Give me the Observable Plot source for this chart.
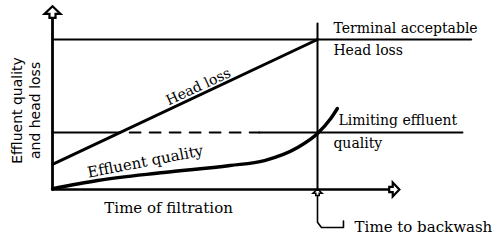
<!DOCTYPE html>
<html><head><meta charset="utf-8">
<script src="https://cdn.jsdelivr.net/npm/d3@7"></script>
<script src="https://cdn.jsdelivr.net/npm/@observablehq/plot@0.6"></script>
<style>html,body{margin:0;padding:0;background:#fff}</style>
</head><body><div id="chart"></div>
<script>
// ---- data (abstract units: time 0..backwash=10, value 0..terminal=10) ----
const headLossTimes = [0, 10];
const headLossValues = [1.67, 10];
const effluentTimes = [0, 1.7, 4.2, 6.7, 8.0, 9.25, 10, 10.5, 10.75];
const effluentValues = [0.05, 0.6, 1.13, 1.6, 1.93, 2.8, 3.73, 4.73, 5.4];
const terminalHeadLoss = 10;
const limitingQuality = 3.8;
const backwashTime = 10;
const labels = {
  yTitle1: "Effluent quality", yTitle2: "and head loss",
  xTitle: "Time of filtration",
  headLoss: "Head loss", effluent: "Effluent quality",
  terminal1: "Terminal acceptable", terminal2: "Head loss",
  limiting1: "Limiting effluent", limiting2: "quality",
  backwash: "Time to backwash"
};

// ---- layout (extents in the same abstract units) ----
const xAxisEnd = 12.75, yAxisEnd = 11.55;
const terminalEnd = 15.8, limitingEnd = 15.47;
const dashStart = 2.56, dashEnd = 7.8;
const vTop = 11.07, vBottom = -0.45, bracketBottom = -2.53, bracketRight = 10.98, hookTop = -2.1;

const headLoss = headLossTimes.map((t, i) => ({t, v: headLossValues[i]}));
const effluent = effluentTimes.map((t, i) => ({t, v: effluentValues[i]}));

// hollow arrowhead symbol (points up)
const arrowHead = {
  draw(ctx, size) {
    const r = Math.sqrt(size / Math.PI);
    ctx.moveTo(0, -r);
    ctx.lineTo(r, -0.05 * r);
    ctx.lineTo(0.38 * r, -0.05 * r);
    ctx.lineTo(0.38 * r, 0.45 * r);
    ctx.lineTo(-0.38 * r, 0.45 * r);
    ctx.lineTo(-0.38 * r, -0.05 * r);
    ctx.lineTo(-r, -0.05 * r);
    ctx.closePath();
  }
};

const serif = "DejaVu Serif";
const txt = {fill: "#000", fontSize: 14};
const chart = Plot.plot({
  width: 500, height: 248, margin: 0,
  x: {domain: [0, 10], range: [52, 317], axis: null},
  y: {domain: [0, 10], range: [189, 39], axis: null},
  style: {fontFamily: serif, background: "#fff"},
  marks: [
    // axes
    Plot.line([{t: 0, v: 0}, {t: 0, v: yAxisEnd}], {x: "t", y: "v", stroke: "#000", strokeWidth: 2.8}),
    Plot.line([{t: 0, v: 0}, {t: xAxisEnd, v: 0}], {x: "t", y: "v", stroke: "#000", strokeWidth: 2.6}),
    Plot.dot([{t: 0, v: yAxisEnd}], {x: "t", y: "v", symbol: arrowHead, r: 8, fill: "#fff", stroke: "#000", strokeWidth: 2.2, dy: -2}),
    Plot.dot([{t: xAxisEnd, v: 0}], {x: "t", y: "v", symbol: arrowHead, r: 7, rotate: 90, fill: "#fff", stroke: "#000", strokeWidth: 2.2, dx: 2}),
    // terminal head loss line
    Plot.line([{t: 0, v: terminalHeadLoss}, {t: terminalEnd, v: terminalHeadLoss}], {x: "t", y: "v", stroke: "#000", strokeWidth: 2}),
    // limiting quality line: solid, dashed, solid
    Plot.line([{t: 0, v: limitingQuality}, {t: dashStart, v: limitingQuality}], {x: "t", y: "v", stroke: "#000", strokeWidth: 2}),
    Plot.line([{t: dashStart + 0.35, v: limitingQuality}, {t: dashEnd, v: limitingQuality}], {x: "t", y: "v", stroke: "#000", strokeWidth: 1.8, strokeDasharray: "11,9"}),
    Plot.line([{t: dashEnd, v: limitingQuality}, {t: limitingEnd, v: limitingQuality}], {x: "t", y: "v", stroke: "#000", strokeWidth: 2}),
    // backwash vertical line and bracket
    Plot.line([{t: backwashTime, v: vTop}, {t: backwashTime, v: 0}], {x: "t", y: "v", stroke: "#000", strokeWidth: 2}),
    Plot.line([{t: backwashTime, v: vBottom}, {t: backwashTime, v: bracketBottom + 0.35}, {t: backwashTime + 0.15, v: bracketBottom}, {t: bracketRight, v: bracketBottom}, {t: bracketRight, v: hookTop}],
      {x: "t", y: "v", stroke: "#000", strokeWidth: 1.6, fill: "none"}),
    Plot.dot([{t: backwashTime, v: 0}], {x: "t", y: "v", symbol: arrowHead, r: 4.5, fill: "#fff", stroke: "#000", strokeWidth: 1.6, dy: 4}),
    // curves
    Plot.line(headLoss, {x: "t", y: "v", stroke: "#000", strokeWidth: 3}),
    Plot.line(effluent, {x: "t", y: "v", stroke: "#000", strokeWidth: 3.4, curve: "monotone-x"}),
    // labels
    Plot.text([{t: 5.5, v: 6.85}], {x: "t", y: "v", text: () => labels.headLoss, rotate: -25, ...txt}),
    Plot.text([{t: 3.5, v: 1.85}], {x: "t", y: "v", text: () => labels.effluent, rotate: -11, ...txt, fontSize: 15}),
    Plot.text([{t: 10.6, v: 10.73}], {x: "t", y: "v", text: () => labels.terminal1, textAnchor: "start", ...txt}),
    Plot.text([{t: 10.6, v: 9.27}], {x: "t", y: "v", text: () => labels.terminal2, textAnchor: "start", ...txt}),
    Plot.text([{t: 10.79, v: 4.6}], {x: "t", y: "v", text: () => labels.limiting1, textAnchor: "start", ...txt}),
    Plot.text([{t: 10.6, v: 3.07}], {x: "t", y: "v", text: () => labels.limiting2, textAnchor: "start", ...txt}),
    Plot.text([{t: 11.4, v: -2.53}], {x: "t", y: "v", text: () => labels.backwash, textAnchor: "start", ...txt, fontSize: 15}),
    Plot.text([{t: 4.38, v: -1.27}], {x: "t", y: "v", text: () => labels.xTitle, ...txt, fontSize: 15}),
    Plot.text([{t: -1.32, v: 5.27}], {x: "t", y: "v", text: () => labels.yTitle1, rotate: -90, fontSize: 14, fontFamily: "DejaVu Sans", fill: "#000"}),
    Plot.text([{t: -0.64, v: 5.27}], {x: "t", y: "v", text: () => labels.yTitle2, rotate: -90, fontSize: 14, fontFamily: "DejaVu Sans", fill: "#000"})
  ]
});
document.getElementById("chart").appendChild(chart);
</script></body></html>
